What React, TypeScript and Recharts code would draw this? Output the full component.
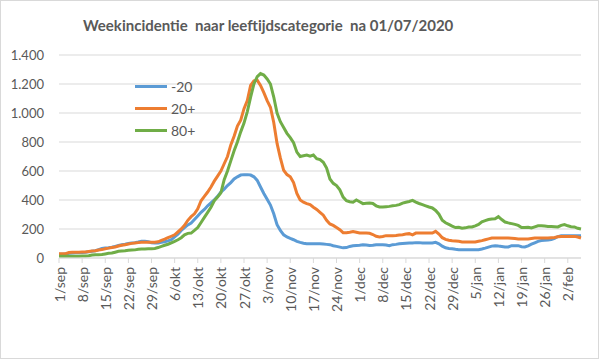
import { LineChart, Line, XAxis, YAxis, CartesianGrid } from "recharts";

// one value per day, 1/sep .. 6/feb
const UNDER_20 = [
  26, 26, 27, 33, 35, 36, 37, 38, 40, 43,
  47, 50, 58, 65, 69, 70, 74, 80, 86, 92,
  95, 100, 104, 106, 110, 115, 115, 112, 105, 103,
  103, 108, 112, 118, 126, 145, 165, 190, 210, 228,
  241, 265, 290, 315, 335, 360, 380, 400, 425, 455,
  475, 500, 520, 545, 560, 572, 575, 575, 572, 560,
  535, 490, 445, 405, 365, 305, 230, 190, 160, 145,
  135, 126, 115, 108, 102, 99, 99, 99, 99, 98,
  96, 94, 92, 85, 80, 75, 70, 72, 80, 84,
  86, 88, 92, 90, 86, 88, 92, 92, 92, 90,
  85, 92, 94, 98, 100, 102, 104, 104, 106, 106,
  104, 103, 103, 103, 108, 98, 82, 70, 66, 64,
  60, 57, 57, 57, 57, 57, 57, 57, 62, 68,
  75, 82, 85, 82, 80, 76, 76, 85, 85, 85,
  78, 76, 84, 95, 105, 115, 120, 122, 124, 128,
  135, 148, 154, 154, 154, 154, 154, 154, 154,
];

const OVER_20 = [
  30, 30, 30, 38, 39, 40, 40, 41, 42, 45,
  48, 50, 55, 58, 64, 68, 73, 76, 83, 88,
  92, 96, 101, 104, 106, 108, 108, 108, 108, 108,
  112, 122, 130, 140, 150, 160, 180, 200, 225, 260,
  285, 305, 340, 395, 425, 455, 490, 530, 565, 600,
  650, 700, 780, 840, 910, 950, 1030, 1085, 1190, 1222,
  1226, 1190, 1140, 1085, 1040, 935, 790, 690, 605, 575,
  560, 520, 445, 400, 385, 375, 368, 350, 335, 315,
  295, 260, 235, 225, 210, 195, 175, 175, 178, 182,
  178, 172, 172, 172, 170, 162, 150, 145, 148, 154,
  154, 154, 155, 158, 161, 165, 168, 160, 172, 172,
  172, 172, 172, 172, 184, 165, 140, 128, 122, 119,
  117, 115, 110, 110, 110, 110, 110, 115, 120, 126,
  132, 138, 138, 138, 138, 138, 138, 136, 134, 131,
  131, 131, 131, 135, 138, 138, 138, 138, 138, 140,
  142, 146, 149, 149, 149, 149, 149, 145, 138,
];

const OVER_80 = [
  12, 12, 12, 12, 12, 12, 12, 13, 13, 15,
  20, 23, 23, 24, 28, 32, 34, 40, 46, 48,
  50, 54, 55, 56, 60, 62, 62, 63, 64, 66,
  72, 80, 88, 95, 105, 115, 126, 140, 160, 170,
  172, 190, 210, 245, 280, 315, 350, 395, 420, 450,
  540, 600, 670, 740, 800, 870, 930, 1010, 1110, 1200,
  1250, 1272, 1262, 1235, 1200, 1110, 1000, 940, 900, 860,
  830, 795, 730, 700, 705, 710, 702, 710, 685, 678,
  660, 620, 545, 515, 500, 470, 420, 395, 388, 385,
  400, 388, 375, 378, 379, 376, 360, 352, 352, 354,
  356, 360, 363, 368, 379, 385, 390, 397, 385, 376,
  368, 360, 352, 345, 328, 302, 260, 243, 232, 220,
  210, 212, 205, 208, 214, 214, 222, 232, 250, 258,
  265, 269, 270, 285, 265, 248, 242, 237, 232, 225,
  210, 210, 212, 207, 215, 222, 222, 220, 218, 218,
  216, 214, 225, 230, 222, 216, 214, 205, 200,
];

const X_TICKS = [0, 7, 14, 21, 28, 35, 42, 49, 56, 63, 70, 77, 84, 91, 98, 105, 112, 119, 126, 133, 140, 147, 154];
const X_LABELS = [
  "1/sep", "8/sep", "15/sep", "22/sep", "29/sep", "6/okt", "13/okt", "20/okt",
  "27/okt", "3/nov", "10/nov", "17/nov", "24/nov", "1/dec", "8/dec", "15/dec",
  "22/dec", "29/dec", "5/jan", "12/jan", "19/jan", "26/jan", "2/feb",
];
const Y_TICKS = [0, 200, 400, 600, 800, 1000, 1200, 1400];
const Y_LABELS = ["0", "200", "400", "600", "800", "1.000", "1.200", "1.400"];

const SERIES = [
  { key: "u20", name: "-20", color: "#5B9BD5" },
  { key: "o20", name: "20+", color: "#ED7D31" },
  { key: "o80", name: "80+", color: "#70AD47" },
];

const data = UNDER_20.map((v, i) => ({ day: i, u20: v, o20: OVER_20[i], o80: OVER_80[i] }));

const FONT = "Lato, 'Open Sans', sans-serif";
const TEXT = "#595959";
const GRID = "#D9D9D9";

function XTick({ x, y, payload }: any) {
  const idx = X_TICKS.indexOf(payload.value);
  return (
    <text
      x={x}
      y={y}
      transform={`rotate(-90, ${x}, ${y})`}
      textAnchor="end"
      dy="0.4em"
      fill={TEXT}
      fontSize={14}
      fontFamily={FONT}
    >
      {X_LABELS[idx]}
    </text>
  );
}

export default function App() {
  return (
    <div style={{ position: "absolute", left: 0, top: 0, width: 599, height: 359, background: "#fff", fontFamily: FONT }}>
      <div
        style={{
          position: "absolute",
          left: 83,
          top: 16,
          fontSize: 15,
          fontWeight: 700,
          color: TEXT,
          whiteSpace: "pre",
        }}
      >
        {"Weekincidentie  naar leeftijdscategorie  na 01/07/2020"}
      </div>
      <LineChart width={599} height={359} data={data} margin={{ top: 55, right: 18, bottom: 0, left: 0 }}>
        <CartesianGrid vertical={false} stroke={GRID} />
        <XAxis
          dataKey="day"
          type="number"
          domain={[0, 158]}
          ticks={X_TICKS}
          interval={0}
          height={101}
          stroke={GRID}
          tickSize={5}
          tickMargin={4}
          tick={<XTick />}
        />
        <YAxis
          domain={[0, 1400]}
          ticks={Y_TICKS}
          width={59}
          axisLine={false}
          tickLine={false}
          tickMargin={9}
          tick={{ fill: TEXT, fontSize: 13, fontFamily: FONT }}
          tickFormatter={(v: number) => Y_LABELS[Y_TICKS.indexOf(v)]}
        />
        {SERIES.map((s) => (
          <Line
            key={s.key}
            type="linear"
            dataKey={s.key}
            name={s.name}
            stroke={s.color}
            strokeWidth={3}
            dot={false}
            isAnimationActive={false}
          />
        ))}
      </LineChart>
      <div style={{ position: "absolute", left: 135, top: 75 }}>
        {SERIES.map((s) => (
          <div key={s.key} style={{ display: "flex", alignItems: "center", height: 22.3 }}>
            <div style={{ width: 32, height: 3, background: s.color }} />
            <span style={{ marginLeft: 4, fontSize: 14, color: TEXT }}>{s.name}</span>
          </div>
        ))}
      </div>
      <div style={{ position: "absolute", inset: 0, border: `1px solid ${GRID}`, pointerEvents: "none" }} />
    </div>
  );
}
